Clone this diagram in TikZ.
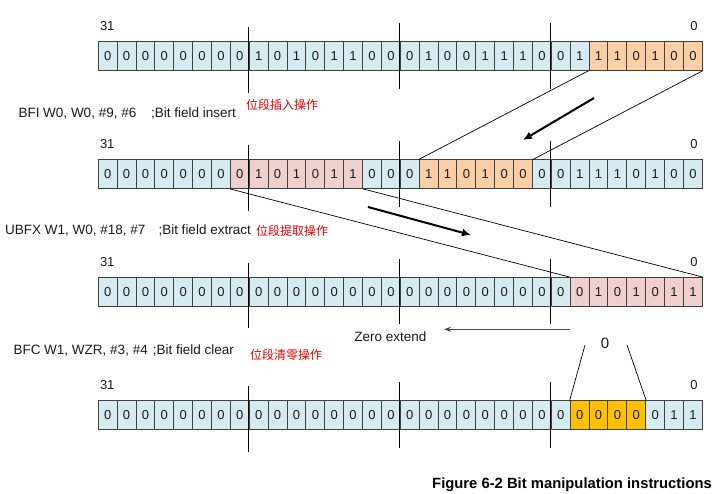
\documentclass[tikz,border=0pt]{standalone}
\usepackage{fontspec}
\setmainfont{Liberation Sans}
\newfontfamily\cjk{Noto Sans CJK SC}
\usetikzlibrary{arrows.meta}
\definecolor{cellblue}{HTML}{D5EBF0}
\definecolor{cellorange}{HTML}{FBCFA6}
\definecolor{cellpink}{HTML}{F0CFCF}
\definecolor{cellgold}{HTML}{FFC000}
\definecolor{cellline}{HTML}{404040}
\definecolor{cnred}{HTML}{E60000}
\definecolor{txt}{HTML}{1A1A1A}
\begin{document}
\begin{tikzpicture}[x=1pt,y=-1pt,
  cell/.style={draw=cellline, line width=0.9pt, minimum width=18.875pt, minimum height=28.5pt, inner sep=0pt, font=\fontsize{13}{15}\selectfont, text=txt},
  lbl/.style={font=\fontsize{13}{15}\selectfont, text=txt, inner sep=0pt},
  instr/.style={font=\fontsize{13.5}{15}\selectfont, text=txt, inner sep=0pt, anchor=base west},
  cn/.style={font=\cjk\fontsize{12}{14}\selectfont, text=cnred, inner sep=0pt, anchor=west},
  divline/.style={draw=black, line width=0.8pt},
  trap/.style={draw=black, line width=0.7pt},
  bigarrow/.style={draw=black, line width=2pt, -{Latex[length=9pt,width=8pt]}},
]
\useasboundingbox (0,0) rectangle (721,494);
% ---------- Row 1 ----------
\foreach \b [count=\i from 0] in {0,0,0,0,0,0,0,0,1,0,1,0,1,1,0,0,0,1,0,0,1,1,1,0,0,1,1,1,0,1,0,0} {
  \ifnum\i>25 \def\cc{cellorange}\else\def\cc{cellblue}\fi
  \node[cell, fill=\cc] (a\i) at ({98.3+(\i+0.5)*18.875}, 56) {\b};
}
% ---------- Row 2 ----------
\foreach \b [count=\i from 0] in {0,0,0,0,0,0,0, 0,1,0,1,0,1,1, 0,0,0, 1,1,0,1,0,0, 0,0,1,1,1,0,1,0,0} {
  \def\cc{cellblue}
  \ifnum\i>6 \ifnum\i<14 \def\cc{cellpink}\fi\fi
  \ifnum\i>16 \ifnum\i<23 \def\cc{cellorange}\fi\fi
  \node[cell, fill=\cc] (b\i) at ({98.3+(\i+0.5)*18.875}, 174.2) {\b};
}
% ---------- Row 3 ----------
\foreach \b [count=\i from 0] in {0,0,0,0,0,0,0,0,0,0,0,0,0,0,0,0,0,0,0,0,0,0,0,0,0,0,1,0,1,0,1,1} {
  \ifnum\i>24 \def\cc{cellpink}\else\def\cc{cellblue}\fi
  \node[cell, fill=\cc] (c\i) at ({98.3+(\i+0.5)*18.875}, 291.8) {\b};
}
% ---------- Row 4 ----------
\foreach \b [count=\i from 0] in {0,0,0,0,0,0,0,0,0,0,0,0,0,0,0,0,0,0,0,0,0,0,0,0,0,0,0,0,0,0,1,1} {
  \def\cc{cellblue}
  \ifnum\i>24 \ifnum\i<29 \def\cc{cellgold}\fi\fi
  \node[cell, fill=\cc] (d\i) at ({98.3+(\i+0.5)*18.875}, 415) {\b};
}
% ---------- dividers and bit numbers ----------
\foreach \r in {a,b,c,d} {
  \draw[divline] ([yshift=14pt]\r8.north west) -- ([yshift=-22pt]\r8.south west);
  \draw[divline] ([yshift=18pt]\r16.north west) -- ([yshift=-18pt]\r16.south west);
  \draw[divline] ([yshift=18pt]\r24.north west) -- ([yshift=-18pt]\r24.south west);
  \node[lbl] (\r hi) at ([xshift=-0.5pt,yshift=15pt]\r0.north) {31};
  \node[lbl] (\r lo) at ([xshift=1pt,yshift=15pt]\r31.north) {0};
}
% ---------- BFI ----------
\node[instr] (bfi) at (18.3,117.4) {BFI W0, W0, \#9, \#6};
\node[instr] (bfic) at (151,117.4) {;Bit field insert};
\node[cn] (bficn) at (246,105.3) {位段插入操作};
\draw[trap] (a26.south west) -- (b17.north west);
\draw[trap] (a31.south east) -- (b22.north east);
\coordinate (ar1s) at (594,98);
\coordinate (ar1e) at (523,140);
\draw[bigarrow] (ar1s) -- (ar1e);
% ---------- UBFX ----------
\node[instr] (ubfx) at (5,234.7) {UBFX W1, W0, \#18, \#7};
\node[instr] (ubfxc) at (158.3,234.7) {;Bit field extract};
\node[cn] (ubfxcn) at (256,230.5) {位段提取操作};
\draw[trap] (b7.south west) -- (c25.north west);
\draw[trap] (b13.south east) -- (c31.north east);
\coordinate (ar2s) at (368,207);
\coordinate (ar2e) at (471,235);
\draw[bigarrow] (ar2s) -- (ar2e);
\coordinate (zes) at (570,329.3);
\node[font=\fontsize{13.5}{15}\selectfont, text=txt, inner sep=1pt] (zext) at (390.5,336.5) {Zero extend};
\draw[draw=black!70, line width=1pt, -{Stealth[length=7pt,width=5pt]}] (zes) -- (444,329.3) coordinate (zee);
% ---------- BFC ----------
\node[instr] (bfc) at (13.3,354.7) {BFC W1, WZR, \#3, \#4};
\node[instr] (bfcc) at (152.7,354.7) {;Bit field clear};
\node[cn] (bfccn) at (250,354.5) {位段清零操作};
\node[font=\fontsize{15}{17}\selectfont, text=txt, inner sep=0pt] (zero) at (605,343.3) {0};
\coordinate (zl) at (585,345);
\coordinate (zr) at (627,345);
\draw[trap] (zl) -- (d25.north west);
\draw[trap] (zr) -- (d28.north east);
% ---------- caption ----------
\node[font=\bfseries\fontsize{14.8}{17}\selectfont, text=black, inner sep=0pt, anchor=east] (cap) at (712,485) {Figure 6-2 Bit manipulation instructions};
\end{tikzpicture}
\end{document}
